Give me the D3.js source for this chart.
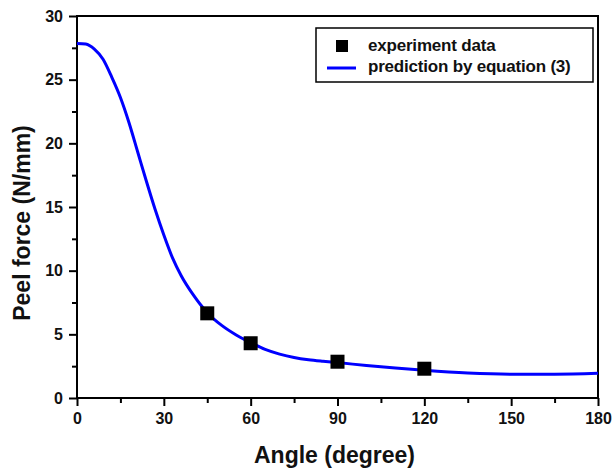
<!DOCTYPE html>
<html>
<head>
<meta charset="utf-8">
<script src="https://cdn.jsdelivr.net/npm/d3@7"></script>
<style>
  body { margin: 0; background: #fff; }
  svg { display: block; font-family: Arial, "Liberation Sans", sans-serif; font-weight: bold; }
</style>
</head>
<body>
<svg id="chart"></svg>
<script>
// data
const expAngles = [45, 60, 90, 120]
const expForce = [6.65, 4.3, 2.85, 2.3]

const fitAngles = [0, 3, 6, 9, 12, 15, 18, 21, 24, 27, 30, 33, 36, 40, 45, 50, 55, 60, 65, 70, 75, 80, 85, 90, 100, 110, 120, 135, 150, 165, 180]
const fitForce = [27.85, 27.8, 27.4, 26.6, 25.2, 23.6, 21.6, 19.3, 17.0, 14.8, 12.8, 11.0, 9.6, 8.15, 6.7, 5.7, 4.95, 4.35, 3.82, 3.45, 3.18, 3.0, 2.88, 2.78, 2.55, 2.35, 2.17, 1.96, 1.87, 1.87, 1.94]

const xTicks = [0, 30, 60, 90, 120, 150, 180]
const yTicks = [0, 5, 10, 15, 20, 25, 30]
const legendLabels = ["experiment data", "prediction by equation (3)"]

const W = 613, H = 470
const margin = {top: 16, right: 15, bottom: 72, left: 77}
const width = W - margin.left - margin.right,
height = H - margin.top - margin.bottom

const svg = d3.select("#chart").attr("width", W).attr("height", H)
const g = svg.append("g").attr("transform", `translate(${margin.left},${margin.top})`)

const x = d3.scaleLinear().domain([0, 180]).range([0, width])
const y = d3.scaleLinear().domain([0, 30]).range([height, 0])

// minor ticks
g.append("g").attr("transform", `translate(0,${height})`)
.call(d3.axisBottom(x).tickValues(xTicks.slice(0, -1).map(d => d + 15)).tickSize(5).tickFormat(""))
g.append("g")
.call(d3.axisLeft(y).tickValues(yTicks.slice(0, -1).map(d => d + 2.5)).tickSize(5).tickFormat(""))

// major ticks
g.append("g").attr("transform", `translate(0,${height})`)
.call(d3.axisBottom(x).tickValues(xTicks).tickSize(8).tickPadding(7))
g.append("g")
.call(d3.axisLeft(y).tickValues(yTicks).tickSize(8).tickPadding(6))

g.selectAll(".domain").remove()
g.selectAll(".tick line").attr("stroke", "#000").attr("stroke-width", 2)
g.selectAll(".tick text").attr("fill", "#111").style("font-size", "16px").style("font-weight", "bold")

// frame
g.append("rect")
.attr("width", width).attr("height", height)
.attr("fill", "none").attr("stroke", "#000").attr("stroke-width", 2)

// fitted curve
const line = d3.line()
.x(d => x(d[0]))
.y(d => y(d[1]))
.curve(d3.curveMonotoneX)

g.append("path")
.datum(fitAngles.map((a, i) => [a, fitForce[i]]))
.attr("d", line)
.attr("fill", "none")
.attr("stroke", "#0000ff")
.attr("stroke-width", 3)

// experiment points
const sq = 14
g.selectAll("rect.pt")
.data(expAngles.map((a, i) => [a, expForce[i]]))
.join("rect").classed("pt", true)
.attr("x", d => x(d[0]) - sq / 2)
.attr("y", d => y(d[1]) - sq / 2)
.attr("width", sq).attr("height", sq)
.attr("fill", "#000")

// axis titles
svg.append("text")
.attr("x", margin.left + width / 2 - 3)
.attr("y", 463)
.attr("text-anchor", "middle")
.style("font-size", "23px")
.attr("fill", "#111")
.text("Angle (degree)")

svg.append("text")
.attr("transform", `translate(30,${margin.top + height / 2 + 16}) rotate(-90)`)
.attr("text-anchor", "middle")
.style("font-size", "23px")
.attr("fill", "#111")
.text("Peel force (N/mm)")

// legend
const lg = svg.append("g")
lg.append("rect")
.attr("x", 316).attr("y", 28).attr("width", 277).attr("height", 54)
.attr("fill", "#fff").attr("stroke", "#000").attr("stroke-width", 1.5)
lg.append("rect")
.attr("x", 336).attr("y", 40).attr("width", 12).attr("height", 12)
.attr("fill", "#000")
lg.append("line")
.attr("x1", 327).attr("x2", 356).attr("y1", 68).attr("y2", 68)
.attr("stroke", "#0000ff").attr("stroke-width", 3)
lg.selectAll("text.lab")
.data(legendLabels)
.join("text").classed("lab", true)
.attr("x", 368)
.attr("y", (d, i) => 51 + i * 21)
.style("font-size", "17px")
.style("letter-spacing", "-0.2px")
.attr("fill", "#111")
.text(d => d)
</script>
</body>
</html>
